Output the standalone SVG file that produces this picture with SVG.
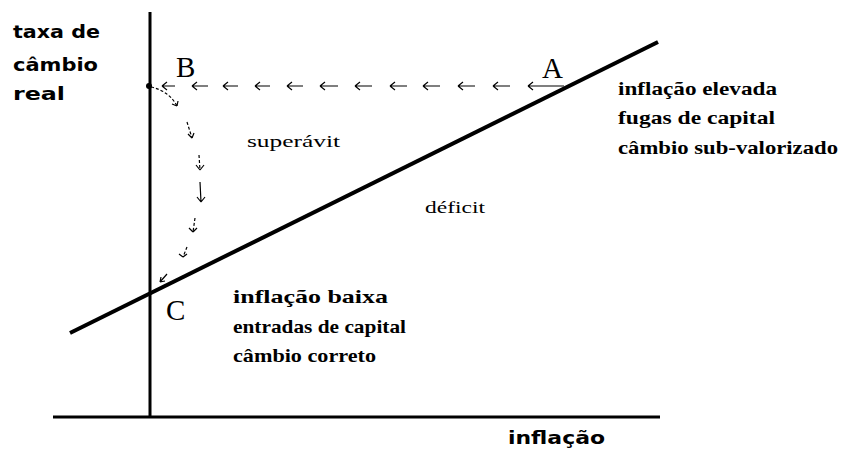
<svg xmlns="http://www.w3.org/2000/svg" width="842" height="449" viewBox="0 0 842 449">
<style>
.ax{stroke:#000;stroke-width:3;fill:none}
.curve{stroke:#000;stroke-width:4;fill:none}
.arr{stroke:#000;stroke-width:1.2;fill:none}
.dash{stroke:#000;stroke-width:1.2;fill:none;stroke-dasharray:3 2}
.lab{font-family:"DejaVu Sans","Liberation Sans",sans-serif;font-weight:bold;font-size:18px}
.note{font-family:"Liberation Serif","Times New Roman",serif;font-weight:bold;font-size:19px}
.reg{font-family:"Liberation Serif","Times New Roman",serif;font-size:17px}
.pt{font-family:"Liberation Serif","Times New Roman",serif;font-size:29px}
</style>
<rect width="842" height="449" fill="#fff"/>
<g id="axes">
<line class="ax" x1="150" y1="12" x2="150" y2="416"/>
<line class="ax" x1="53" y1="417" x2="660" y2="417"/>
</g>
<g id="line-curve">
<line class="curve" x1="70" y1="333" x2="658" y2="42"/>
</g>
<g id="axis-labels">
<text class="lab" x="13" y="38" textLength="87" lengthAdjust="spacingAndGlyphs">taxa de</text>
<text class="lab" x="13" y="71" textLength="85" lengthAdjust="spacingAndGlyphs">câmbio</text>
<text class="lab" x="13" y="100" textLength="52" lengthAdjust="spacingAndGlyphs">real</text>
<text class="lab" x="508" y="444" textLength="97" lengthAdjust="spacingAndGlyphs">inflação</text>
</g>
<g id="point-A"><text class="pt" x="542" y="78">A</text></g>
<g id="point-B"><text class="pt" x="176" y="77">B</text><circle cx="149" cy="86" r="3" fill="#000"/></g>
<g id="point-C"><text class="pt" x="166" y="320">C</text></g>
<g id="region-labels">
<text class="reg" x="247" y="147" textLength="93" lengthAdjust="spacingAndGlyphs">superávit</text>
<text class="reg" x="425" y="213" textLength="60" lengthAdjust="spacingAndGlyphs">déficit</text>
</g>
<g id="note-A">
<text class="note" x="618" y="95" textLength="159" lengthAdjust="spacingAndGlyphs">inflação elevada</text>
<text class="note" x="618" y="124" textLength="157" lengthAdjust="spacingAndGlyphs">fugas de capital</text>
<text class="note" x="618" y="154" textLength="220" lengthAdjust="spacingAndGlyphs">câmbio sub-valorizado</text>
</g>
<g id="note-C">
<text class="note" x="233" y="303" textLength="155" lengthAdjust="spacingAndGlyphs">inflação baixa</text>
<text class="note" x="233" y="333" textLength="173" lengthAdjust="spacingAndGlyphs">entradas de capital</text>
<text class="note" x="233" y="362" textLength="143" lengthAdjust="spacingAndGlyphs">câmbio correto</text>
</g>
<g id="connectors">
<path class="arr" d="M162 86h13M162 86l5-4M162 86l5 4"/>
<path class="arr" d="M192 86h16M192 86l5-4M192 86l5 4"/>
<path class="arr" d="M223 86h15M223 86l5-4M223 86l5 4"/>
<path class="arr" d="M255 86h15M255 86l5-4M255 86l5 4"/>
<path class="arr" d="M287 86h16M287 86l5-4M287 86l5 4"/>
<path class="arr" d="M320 86h18M320 86l5-4M320 86l5 4"/>
<path class="arr" d="M355 86h17M355 86l5-4M355 86l5 4"/>
<path class="arr" d="M390 86h17M390 86l5-4M390 86l5 4"/>
<path class="arr" d="M423 86h17M423 86l5-4M423 86l5 4"/>
<path class="arr" d="M458 86h17M458 86l5-4M458 86l5 4"/>
<path class="arr" d="M493 86h17M493 86l5-4M493 86l5 4"/>
<path class="arr" d="M528 86h36M528 86l5-4M528 86l5 4"/>
<path class="dash" d="M151 87q18 4 26 19"/>
<path class="arr" d="M177 106l-5-2M177 106l1-5"/>
<path class="dash" d="M187 122l5 16"/>
<path class="arr" d="M192 138l-4-4M192 138l2-5"/>
<path class="dash" d="M199 155l1 15"/>
<path class="arr" d="M200 170l-4-5M200 170l4-5"/>
<path class="arr" d="M200 182l1 20M201 202l-4-5M201 202l4-5"/>
<path class="dash" d="M195 218l-2 14"/>
<path class="arr" d="M193 232l-4-4M193 232l4-4"/>
<path class="dash" d="M187 247l-4 10"/>
<path class="arr" d="M183 257l-4-3M183 257l4-3"/>
<path class="arr" d="M167 274l-7 8M160 282l1-5M160 282l5-1"/>
</g>
</svg>
